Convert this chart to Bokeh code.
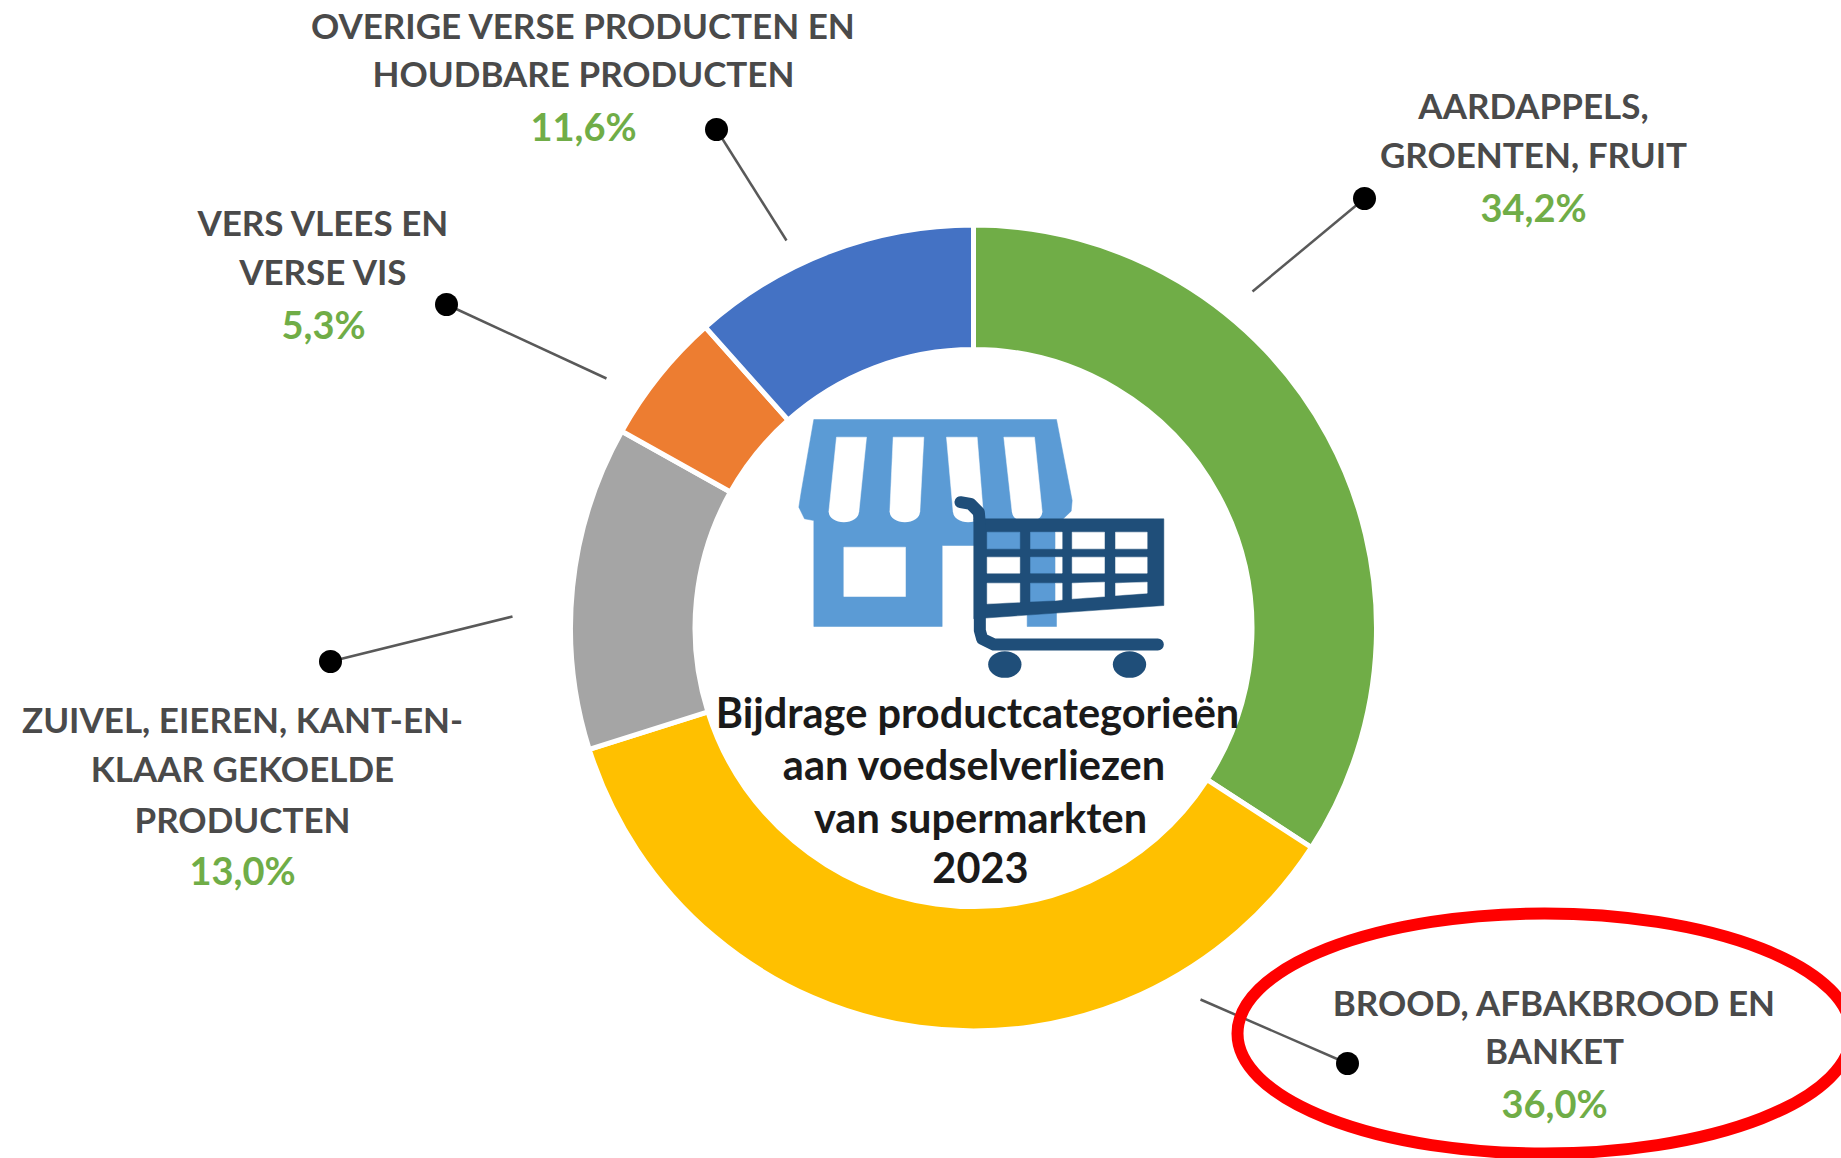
from math import pi
from bokeh.plotting import figure
from bokeh.models import Range1d
from bokeh.core.properties import value
from bokeh.embed import file_html
from bokeh.resources import INLINE

# ---- data ----
categories = [
    ["AARDAPPELS,", "GROENTEN, FRUIT"],
    ["BROOD, AFBAKBROOD EN", "BANKET"],
    ["ZUIVEL, EIEREN, KANT-EN-", "KLAAR GEKOELDE", "PRODUCTEN"],
    ["VERS VLEES EN", "VERSE VIS"],
    ["OVERIGE VERSE PRODUCTEN EN", "HOUDBARE PRODUCTEN"],
]
shares = [34.2, 36.0, 13.0, 5.3, 11.6]
title_lines = ["Bijdrage productcategorieën", "aan voedselverliezen", "van supermarkten", "2023"]

# ---- styles and layout (reference pixels) ----
colors = ["#70AD47", "#FFC000", "#A5A5A5", "#ED7D31", "#4472C4"]
CX, CY, R_OUT, R_IN = 973, 627.5, 403, 278.5
FONT = "Lato"
LABEL_SIZE = "35px"
PCT_SIZE = "38px"
label_cx = [1533, 1554, 242, 323, 583]
label_line_y = [[104, 153], [1001, 1049], [718, 767, 818], [221, 270], [24, 72]]
label_pct_y = [206, 1102, 869, 323, 125]
leader_dot = [(1364, 198), (1347, 1063), (330, 661), (446, 304), (716, 129)]
leader_end = [(1252, 291), (1200, 999), (512, 616), (606, 378), (786, 240)]
title_x = [977, 974, 980, 980]
title_y = [711, 763, 816, 867]

W, H = 1841, 1158
p = figure(width=W, height=H, output_backend="svg", toolbar_location=None,
           x_range=Range1d(0, W), y_range=Range1d(0, H),
           min_border=0, background_fill_color="white", border_fill_color="white")
p.axis.visible = False
p.grid.visible = False
p.outline_line_color = None


def Y(y):
    return 1158 - y


# donut: clockwise from 12 o'clock
total = sum(shares)
start, end = [], []
cum = 0.0
for s in shares:
    start.append(pi / 2 - 2 * pi * (cum + s) / total)
    end.append(pi / 2 - 2 * pi * cum / total)
    cum += s
p.annular_wedge(x=[CX] * 5, y=[Y(CY)] * 5, inner_radius=R_IN, outer_radius=R_OUT,
                start_angle=start, end_angle=end, fill_color=colors,
                line_color="white", line_width=5)

# leaders
for (dx, dy), (ex, ey) in zip(leader_dot, leader_end):
    p.line([dx, ex], [Y(dy), Y(ey)], line_color="#595959", line_width=2.5)
p.scatter([d[0] for d in leader_dot], [Y(d[1]) for d in leader_dot], size=23,
          marker="circle", fill_color="black", line_color="black", line_width=0)

# labels
for lines, cx, ys, py, v in zip(categories, label_cx, label_line_y, label_pct_y, shares):
    p.text(x=[cx] * len(lines), y=[Y(y) for y in ys], text=lines, text_align="center",
           text_baseline="middle", text_font=value(FONT), text_font_style="bold",
           text_font_size=LABEL_SIZE, text_color="#4A4A4A")
    p.text(x=[cx], y=[Y(py)], text=[f"{v:.1f}".replace(".", ",") + "%"], text_align="center",
           text_baseline="middle", text_font=value(FONT), text_font_style="bold",
           text_font_size=PCT_SIZE, text_color="#70AD47")

# centre title
p.text(x=title_x, y=[Y(y) for y in title_y], text=title_lines, text_align="center",
       text_baseline="middle", text_font=value(FONT), text_font_style="bold",
       text_font_size="41.5px", text_color="#1A1A1A")

# ---- icon, traced on a 3x crop with origin (760, 390) ----
LB, DB = "#5B9BD5", "#1F4E79"


def ix(v):
    return 760 + v / 3


def iy(v):
    return Y(390 + v / 3)


def poly(pts, color):
    p.patch([ix(a) for a, _ in pts], [iy(b) for _, b in pts], fill_color=color,
            line_color=color, line_width=0.5)


poly([(160, 87), (888, 87), (935, 330), (932, 362), (905, 388), (888, 390), (888, 708), (800, 708),
      (800, 465), (545, 465), (545, 708), (160, 708), (160, 390), (132, 385), (115, 350), (122, 305)], LB)
poly([(250, 470), (435, 470), (435, 618), (250, 618)], "white")
stripes = [((228, 140), (318, 140), (295, 365), (205, 365)),
           ((398, 140), (490, 140), (478, 365), (388, 365)),
           ((558, 140), (650, 140), (668, 365), (578, 365)),
           ((730, 140), (822, 140), (845, 365), (755, 365))]
for st in stripes:
    poly(list(st), "white")
    p.ellipse(x=[ix((st[2][0] + st[3][0]) / 2)], y=[iy(365)], width=[(st[2][0] - st[3][0]) / 3],
              height=[60 / 3], fill_color="white", line_color=None)

# cart
poly([(640, 385), (1210, 385), (1210, 645), (640, 685)], DB)
cells = [
    ([(680, 425), (778, 425), (778, 475), (680, 475)], LB),
    ([(810, 425), (885, 425), (885, 475), (810, 475)], LB),
    ([(885, 425), (905, 425), (905, 475), (885, 475)], "white"),
    ([(935, 425), (1032, 425), (1032, 475), (935, 475)], "white"),
    ([(1065, 425), (1160, 425), (1160, 475), (1065, 475)], "white"),
    ([(680, 500), (778, 500), (778, 548), (680, 548)], "white"),
    ([(810, 500), (885, 500), (885, 548), (810, 548)], LB),
    ([(885, 500), (905, 500), (905, 548), (885, 548)], "white"),
    ([(935, 500), (1032, 500), (1032, 548), (935, 548)], "white"),
    ([(1065, 500), (1160, 500), (1160, 548), (1065, 548)], "white"),
    ([(680, 578), (778, 578), (778, 635), (680, 640)], "white"),
    ([(810, 578), (885, 578), (885, 630), (810, 633)], LB),
    ([(885, 578), (905, 578), (905, 628), (885, 630)], "white"),
    ([(935, 578), (1032, 575), (1032, 618), (935, 625)], "white"),
    ([(1065, 578), (1160, 575), (1160, 608), (1065, 615)], "white"),
]
for pts, col in cells:
    poly(pts, col)
hx = [600, 630, 655, 658, 658, 665, 700, 1192]
hy = [335, 340, 365, 400, 720, 745, 762, 762]
p.line([ix(a) for a in hx], [iy(b) for b in hy], line_color=DB, line_width=12,
       line_cap="round", line_join="round")
p.ellipse(x=[ix(733), ix(1107)], y=[iy(822), iy(822)], width=100 / 3, height=80 / 3,
          fill_color=DB, line_color=None)

# red ring around the highlighted label
p.ellipse(x=[1544], y=[Y(1033)], width=[614], height=[240], fill_color=None,
          line_color="#FF0000", line_width=12)

open("out.html", "w").write(file_html(p, INLINE))
